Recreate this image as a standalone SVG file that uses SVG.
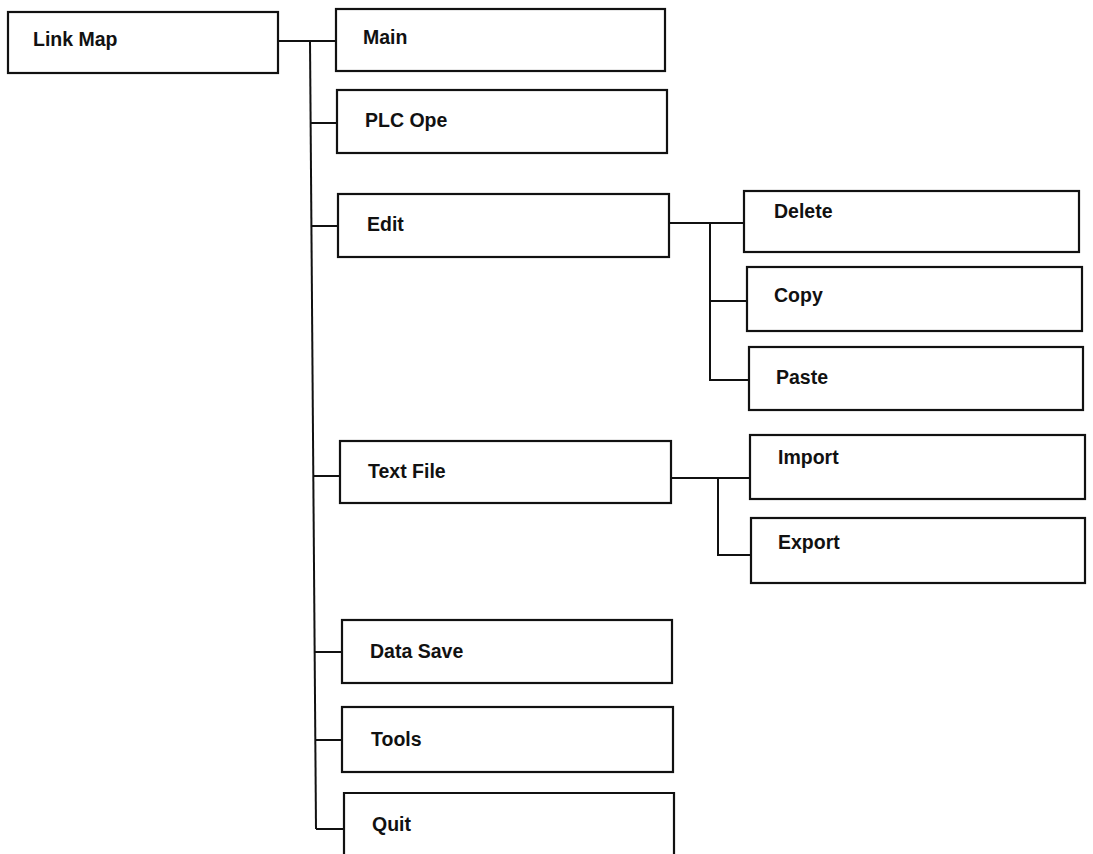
<svg xmlns="http://www.w3.org/2000/svg" width="1093" height="854" viewBox="0 0 1093 854">
  <style>
    .box { fill: #ffffff; stroke: #111111; stroke-width: 2.2; }
    .lbl { font-family: "Liberation Sans", Arial, Helvetica, sans-serif; font-size: 19.5px; font-weight: bold; fill: #111111; }
    .wire { fill: none; stroke: #111111; stroke-width: 2; }
  </style>
  <rect width="1093" height="854" fill="#ffffff"/>

  <!-- connectors -->
  <g id="connectors">
    <!-- root to main trunk -->
    <path class="wire" d="M278 41 H336"/>
    <path class="wire" d="M310 41 L316 829"/>
    <path class="wire" d="M310 123 H337"/>
    <path class="wire" d="M312 226 H338"/>
    <path class="wire" d="M313 476 H340"/>
    <path class="wire" d="M314 652 H342"/>
    <path class="wire" d="M315 740 H342"/>
    <path class="wire" d="M316 829 H344"/>
    <!-- Edit branch -->
    <path class="wire" d="M669 223 H744"/>
    <path class="wire" d="M710 223 V380 H749"/>
    <path class="wire" d="M710 301 H747"/>
    <!-- Text File branch -->
    <path class="wire" d="M671 478 H750"/>
    <path class="wire" d="M718 478 V555 H751"/>
  </g>

  <g id="link-map">
    <rect class="box" x="8" y="12" width="270" height="61"/>
    <text class="lbl" x="33" y="46">Link Map</text>
  </g>
  <g id="main">
    <rect class="box" x="336" y="9" width="329" height="62"/>
    <text class="lbl" x="363" y="44">Main</text>
  </g>
  <g id="plc-ope">
    <rect class="box" x="337" y="90" width="330" height="63"/>
    <text class="lbl" x="365" y="127">PLC Ope</text>
  </g>
  <g id="edit">
    <rect class="box" x="338" y="194" width="331" height="63"/>
    <text class="lbl" x="367" y="231">Edit</text>
  </g>
  <g id="delete">
    <rect class="box" x="744" y="191" width="335" height="61"/>
    <text class="lbl" x="774" y="218">Delete</text>
  </g>
  <g id="copy">
    <rect class="box" x="747" y="267" width="335" height="64"/>
    <text class="lbl" x="774" y="302">Copy</text>
  </g>
  <g id="paste">
    <rect class="box" x="749" y="347" width="334" height="63"/>
    <text class="lbl" x="776" y="384">Paste</text>
  </g>
  <g id="text-file">
    <rect class="box" x="340" y="441" width="331" height="62"/>
    <text class="lbl" x="368" y="478">Text File</text>
  </g>
  <g id="import">
    <rect class="box" x="750" y="435" width="335" height="64"/>
    <text class="lbl" x="778" y="464">Import</text>
  </g>
  <g id="export">
    <rect class="box" x="751" y="518" width="334" height="65"/>
    <text class="lbl" x="778" y="549">Export</text>
  </g>
  <g id="data-save">
    <rect class="box" x="342" y="620" width="330" height="63"/>
    <text class="lbl" x="370" y="658">Data Save</text>
  </g>
  <g id="tools">
    <rect class="box" x="342" y="707" width="331" height="65"/>
    <text class="lbl" x="371" y="746">Tools</text>
  </g>
  <g id="quit">
    <path class="box" d="M344 860 V793 H674 V860"/>
    <text class="lbl" x="372" y="831">Quit</text>
  </g>
</svg>
